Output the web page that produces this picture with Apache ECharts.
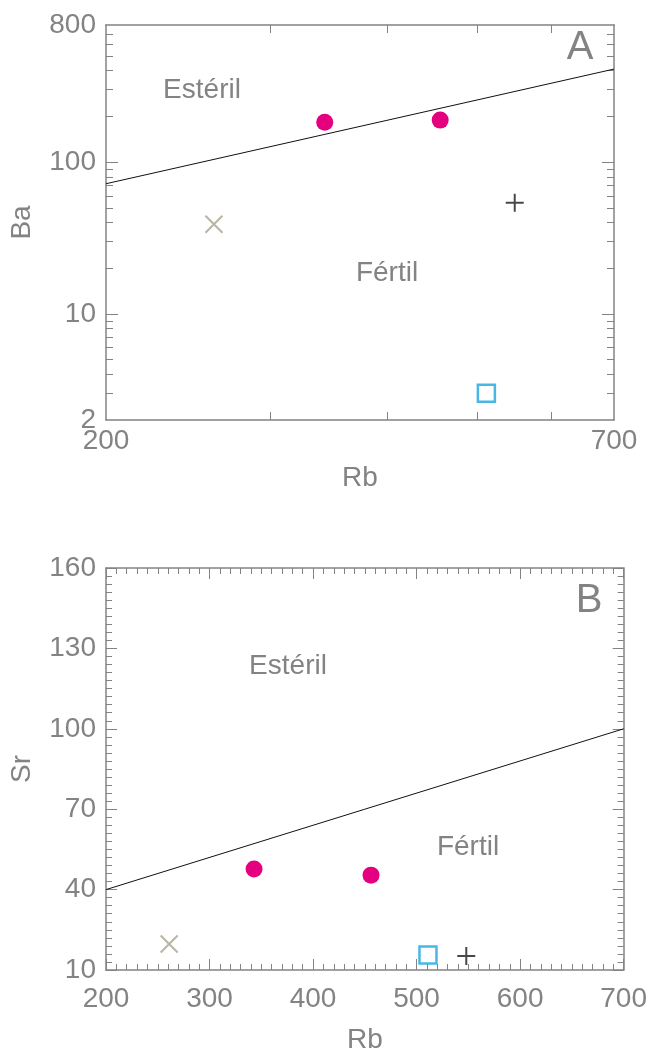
<!DOCTYPE html>
<html>
<head>
<meta charset="utf-8">
<script src="https://cdn.jsdelivr.net/npm/echarts@6/dist/echarts.min.js"></script>
<style>
html,body{margin:0;padding:0;background:#fff;}
#chart{width:650px;height:1055px;}
</style>
</head>
<body>
<div id="chart"></div>
<script>
// ---- Data ----
// magenta circles
const rbCircle = [343, 456];
const baCircle = [183, 189];
const srCircle = [47.7, 45.4];
// grey cross (x)
const rbCross = [261];
const baCross = [39];
const srCross = [19.7];
// cyan open square
const rbSquare = [511];
const baSquare = [3.0];
const srSquare = [15.6];
// black plus
const rbPlus = [548];
const baPlus = [54];
const srPlus = [15.2];
// discrimination lines
const lineRb = [200, 700];
const lineBa = [72, 410];
const lineSr = [40, 100];
// tick values
const baLabelTicks = [2, 10, 100, 800];
const baMajorTicks = [10, 100];
const baMinorTicks = [3, 4, 5, 6, 7, 8, 9, 20, 30, 40, 50, 60, 70, 80, 90, 200, 300, 400, 500, 600, 700];
const rbLogLabels = [200, 700];
const rbLogTicks = [300, 400, 500, 600];
// region labels
const regionUpper = 'Estéril';
const regionLower = 'Fértil';
const panelNames = ['A', 'B'];

const zip = (xs, ys) => xs.map((x, i) => [x, ys[i]]);

const GRAY = '#838383';
const FONT = '"Liberation Sans", Arial, sans-serif';
const FS = 28;
const axisLine = { show: true, lineStyle: { color: GRAY, width: 1.5 } };
const labelStyle = { color: GRAY, fontSize: FS, fontFamily: FONT };
const nameStyle = { color: GRAY, fontSize: FS, fontFamily: FONT };

const chart = echarts.init(document.getElementById('chart'));

function scatterSeries(xi, yi, xs, ys, kind) {
  const base = { type: 'scatter', xAxisIndex: xi, yAxisIndex: yi, data: zip(xs, ys), z: 5, silent: true };
  if (kind === 'circle') return Object.assign(base, { symbol: 'circle', symbolSize: 17, itemStyle: { color: '#e4007f', opacity: 1 } });
  if (kind === 'cross') return Object.assign(base, { symbol: 'path://M0,0L10,10M0,10L10,0', symbolSize: 17, itemStyle: { color: 'none', borderColor: '#a6a38b', borderWidth: 2 } });
  if (kind === 'square') return Object.assign(base, { symbol: 'rect', symbolSize: 17, itemStyle: { color: 'rgba(255,255,255,0)', borderColor: '#1aa5e0', borderWidth: 2.5 } });
  return Object.assign(base, { symbol: 'path://M5,0L5,10M0,5L10,5', symbolSize: 18, itemStyle: { color: 'none', borderColor: '#1a1a1a', borderWidth: 2 } });
}

function txt(x, y, text, size) {
  return { type: 'text', x: x, y: y, style: { text: text, textAlign: 'center', textVerticalAlign: 'middle', font: size + 'px ' + FONT, fill: GRAY } };
}

const option = {
  animation: false,
  backgroundColor: '#fff',
  grid: [
    { left: 105, right: 36, top: 25, height: 395 },
    { left: 105, right: 26, top: 568, height: 402 }
  ],
  xAxis: [
    { gridIndex: 0, type: 'log', min: 200, max: 700, position: 'bottom',
      name: 'Rb', nameLocation: 'middle', nameGap: 44, nameTextStyle: nameStyle,
      axisLine: axisLine, splitLine: { show: false },
      axisTick: { show: true, inside: true, length: 8, customValues: rbLogTicks, lineStyle: { color: GRAY } },
      axisLabel: Object.assign({ margin: 7, customValues: rbLogLabels }, labelStyle) },
    { gridIndex: 0, type: 'log', min: 200, max: 700, position: 'top',
      axisLine: axisLine, splitLine: { show: false },
      axisTick: { show: true, inside: true, length: 8, customValues: rbLogTicks, lineStyle: { color: GRAY } },
      axisLabel: { show: false } },
    { gridIndex: 1, type: 'value', min: 200, max: 700, interval: 100, position: 'bottom',
      name: 'Rb', nameLocation: 'middle', nameGap: 56, nameTextStyle: nameStyle,
      axisLine: axisLine, splitLine: { show: false },
      axisTick: { show: true, inside: true, length: 11, lineStyle: { color: GRAY } },
      minorTick: { show: true, splitNumber: 10, length: 6, lineStyle: { color: GRAY } },
      axisLabel: Object.assign({ margin: 15 }, labelStyle) },
    { gridIndex: 1, type: 'value', min: 200, max: 700, interval: 100, position: 'top',
      axisLine: axisLine, splitLine: { show: false },
      axisTick: { show: true, inside: true, length: 11, lineStyle: { color: GRAY } },
      minorTick: { show: true, splitNumber: 10, length: 6, lineStyle: { color: GRAY } },
      axisLabel: { show: false } }
  ],
  yAxis: [
    { gridIndex: 0, type: 'log', min: 2, max: 800, position: 'left',
      name: 'Ba', nameLocation: 'middle', nameGap: 70, nameTextStyle: nameStyle,
      axisLine: axisLine, splitLine: { show: false },
      axisTick: { show: true, inside: true, length: 12, customValues: baMajorTicks, lineStyle: { color: GRAY } },
      axisLabel: Object.assign({ margin: 10, customValues: baLabelTicks }, labelStyle) },
    { gridIndex: 0, type: 'log', min: 2, max: 800, position: 'left',
      axisLine: { show: false }, splitLine: { show: false },
      axisTick: { show: true, inside: true, length: 7, customValues: baMinorTicks, lineStyle: { color: GRAY } },
      axisLabel: { show: false } },
    { gridIndex: 0, type: 'log', min: 2, max: 800, position: 'right',
      axisLine: axisLine, splitLine: { show: false },
      axisTick: { show: true, inside: true, length: 12, customValues: baMajorTicks, lineStyle: { color: GRAY } },
      axisLabel: { show: false } },
    { gridIndex: 0, type: 'log', min: 2, max: 800, position: 'right',
      axisLine: { show: false }, splitLine: { show: false },
      axisTick: { show: true, inside: true, length: 7, customValues: baMinorTicks, lineStyle: { color: GRAY } },
      axisLabel: { show: false } },
    { gridIndex: 1, type: 'value', min: 10, max: 160, interval: 30, position: 'left',
      name: 'Sr', nameLocation: 'middle', nameGap: 70, nameTextStyle: nameStyle,
      axisLine: axisLine, splitLine: { show: false },
      axisTick: { show: true, inside: true, length: 11, lineStyle: { color: GRAY } },
      minorTick: { show: true, splitNumber: 10, length: 6, lineStyle: { color: GRAY } },
      axisLabel: Object.assign({ margin: 10 }, labelStyle) },
    { gridIndex: 1, type: 'value', min: 10, max: 160, interval: 30, position: 'right',
      axisLine: axisLine, splitLine: { show: false },
      axisTick: { show: true, inside: true, length: 11, lineStyle: { color: GRAY } },
      minorTick: { show: true, splitNumber: 10, length: 6, lineStyle: { color: GRAY } },
      axisLabel: { show: false } }
  ],
  series: [
    { type: 'line', xAxisIndex: 0, yAxisIndex: 0, data: zip(lineRb, lineBa), symbol: 'none', lineStyle: { color: '#111', width: 1 }, z: 3, silent: true },
    scatterSeries(0, 0, rbCircle, baCircle, 'circle'),
    scatterSeries(0, 0, rbCross, baCross, 'cross'),
    scatterSeries(0, 0, rbSquare, baSquare, 'square'),
    scatterSeries(0, 0, rbPlus, baPlus, 'plus'),
    { type: 'line', xAxisIndex: 2, yAxisIndex: 4, data: zip(lineRb, lineSr), symbol: 'none', lineStyle: { color: '#111', width: 1 }, z: 3, silent: true },
    scatterSeries(2, 4, rbCircle, srCircle, 'circle'),
    scatterSeries(2, 4, rbCross, srCross, 'cross'),
    scatterSeries(2, 4, rbSquare, srSquare, 'square'),
    scatterSeries(2, 4, rbPlus, srPlus, 'plus')
  ],
  graphic: [
    txt(202, 90, regionUpper, FS),
    txt(387, 273, regionLower, FS),
    txt(580, 48, panelNames[0], 40),
    txt(288, 666, regionUpper, FS),
    txt(468, 847, regionLower, FS),
    txt(589, 601, panelNames[1], 40)
  ]
};
chart.setOption(option);
</script>
</body>
</html>
